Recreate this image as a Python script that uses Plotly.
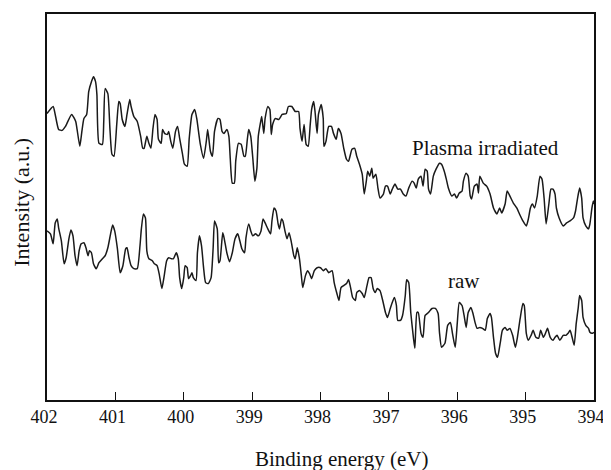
import plotly.graph_objects as go

# Binding energy (eV) and intensity (a.u.)
plasma_energy = [
    402.00, 401.91, 401.88, 401.83, 401.78, 401.73, 401.64, 401.58, 401.56, 401.52,
    401.49, 401.46, 401.42, 401.39, 401.35, 401.32, 401.29, 401.27, 401.24, 401.19,
    401.17, 401.15, 401.11, 401.08, 401.05, 401.02, 400.98, 400.95, 400.93, 400.90,
    400.86, 400.83, 400.79, 400.77, 400.73, 400.68, 400.63, 400.60, 400.58, 400.54,
    400.51, 400.48, 400.45, 400.42, 400.39, 400.37, 400.33, 400.31, 400.28, 400.24,
    400.22, 400.19, 400.16, 400.12, 400.09, 400.06, 400.02, 399.99, 399.95, 399.92,
    399.88, 399.84, 399.81, 399.76, 399.71, 399.67, 399.65, 399.61, 399.58, 399.55,
    399.50, 399.47, 399.44, 399.41, 399.37, 399.34, 399.32, 399.29, 399.26, 399.24,
    399.20, 399.16, 399.12, 399.10, 399.07, 399.05, 399.02, 398.99, 398.96, 398.93,
    398.91, 398.88, 398.86, 398.83, 398.81, 398.77, 398.74, 398.72, 398.70, 398.66,
    398.61, 398.56, 398.50, 398.47, 398.42, 398.37, 398.32, 398.30, 398.27, 398.24,
    398.21, 398.18, 398.15, 398.13, 398.10, 398.08, 398.05, 398.03, 397.99, 397.96,
    397.95, 397.92, 397.88, 397.84, 397.81, 397.77, 397.74, 397.70, 397.66, 397.62,
    397.59, 397.54, 397.50, 397.47, 397.43, 397.39, 397.36, 397.33, 397.31, 397.28,
    397.25, 397.23, 397.19, 397.16, 397.13, 397.08, 397.05, 397.02, 396.98, 396.95,
    396.91, 396.87, 396.83, 396.79, 396.75, 396.71, 396.66, 396.63, 396.60, 396.57,
    396.53, 396.50, 396.47, 396.44, 396.42, 396.39, 396.35, 396.31, 396.26, 396.23,
    396.19, 396.16, 396.13, 396.08, 396.04, 396.01, 395.97, 395.93, 395.91, 395.87,
    395.84, 395.81, 395.79, 395.75, 395.71, 395.69, 395.67, 395.62, 395.57, 395.52,
    395.47, 395.42, 395.38, 395.35, 395.30, 395.27, 395.23, 395.18, 395.13, 395.09,
    395.04, 394.99, 394.96, 394.93, 394.90, 394.87, 394.83, 394.79, 394.76, 394.73,
    394.70, 394.66, 394.63, 394.60, 394.57, 394.55, 394.51, 394.45, 394.40, 394.35,
    394.30, 394.27, 394.24, 394.21, 394.18, 394.16, 394.12, 394.08, 394.06, 394.03,
    394.01, 394.00,
]
plasma_intensity = [
    288, 295, 287, 272, 271, 275, 287, 280, 272, 255,
    270, 283, 287, 310, 320, 325, 320, 307, 258, 257,
    280, 313, 308, 273, 247, 245, 277, 300, 298, 282,
    275, 287, 302, 295, 285, 280, 265, 253, 253, 265,
    258, 253, 273, 287, 282, 262, 258, 272, 268, 267,
    270, 260, 253, 270, 275, 263, 248, 237, 235, 263,
    287, 292, 283, 258, 243, 260, 272, 250, 245, 270,
    283, 282, 270, 268, 272, 265, 243, 218, 218, 240,
    258, 257, 245, 245, 262, 272, 265, 243, 220, 233,
    265, 278, 285, 268, 283, 295, 292, 267, 277, 283,
    282, 287, 288, 295, 295, 290, 290, 273, 260, 277,
    257, 255, 277, 292, 300, 290, 268, 287, 297, 283,
    255, 260, 275, 275, 268, 262, 273, 268, 253, 242,
    240, 252, 253, 245, 237, 227, 207, 220, 230, 225,
    233, 223, 227, 213, 203, 207, 215, 215, 207, 212,
    217, 212, 212, 207, 205, 213, 220, 218, 213, 222,
    225, 215, 232, 230, 212, 207, 225, 232, 238, 237,
    230, 222, 213, 205, 207, 203, 208, 210, 220, 228,
    225, 205, 202, 215, 217, 208, 225, 218, 215, 207,
    193, 187, 193, 188, 197, 210, 205, 198, 193, 187,
    180, 175, 182, 193, 197, 193, 205, 225, 222, 203,
    177, 197, 212, 212, 207, 193, 183, 175, 178, 180,
    183, 190, 203, 213, 203, 183, 175, 172, 177, 193,
    200, 197,
]

raw_energy = [
    402.00, 401.95, 401.91, 401.88, 401.85, 401.83, 401.79, 401.75, 401.72, 401.68,
    401.65, 401.62, 401.59, 401.56, 401.53, 401.50, 401.46, 401.43, 401.40, 401.38,
    401.35, 401.32, 401.28, 401.24, 401.19, 401.15, 401.11, 401.07, 401.04, 401.01,
    400.97, 400.93, 400.89, 400.85, 400.83, 400.80, 400.77, 400.73, 400.68, 400.64,
    400.62, 400.59, 400.56, 400.54, 400.51, 400.46, 400.43, 400.39, 400.36, 400.32,
    400.29, 400.25, 400.22, 400.18, 400.15, 400.11, 400.08, 400.06, 400.03, 400.00,
    399.98, 399.95, 399.93, 399.90, 399.88, 399.86, 399.82, 399.80, 399.77, 399.74,
    399.71, 399.68, 399.64, 399.60, 399.57, 399.55, 399.51, 399.49, 399.47, 399.43,
    399.41, 399.37, 399.33, 399.29, 399.25, 399.21, 399.18, 399.15, 399.11, 399.09,
    399.05, 399.02, 398.99, 398.95, 398.91, 398.87, 398.84, 398.81, 398.77, 398.73,
    398.71, 398.68, 398.65, 398.62, 398.60, 398.57, 398.55, 398.52, 398.49, 398.46,
    398.43, 398.39, 398.37, 398.34, 398.31, 398.28, 398.26, 398.22, 398.19, 398.16,
    398.13, 398.09, 398.05, 398.00, 397.96, 397.92, 397.88, 397.83, 397.80, 397.76,
    397.73, 397.70, 397.66, 397.62, 397.59, 397.56, 397.53, 397.49, 397.47, 397.43,
    397.39, 397.36, 397.32, 397.29, 397.26, 397.23, 397.20, 397.17, 397.13, 397.09,
    397.05, 397.02, 396.98, 396.94, 396.92, 396.89, 396.87, 396.83, 396.80, 396.76,
    396.74, 396.71, 396.68, 396.64, 396.62, 396.59, 396.57, 396.53, 396.50, 396.47,
    396.42, 396.37, 396.32, 396.28, 396.26, 396.23, 396.18, 396.14, 396.10, 396.07,
    396.03, 396.00, 395.97, 395.93, 395.90, 395.87, 395.84, 395.80, 395.77, 395.74,
    395.71, 395.67, 395.63, 395.59, 395.56, 395.52, 395.50, 395.47, 395.44, 395.41,
    395.37, 395.34, 395.30, 395.27, 395.23, 395.19, 395.15, 395.12, 395.08, 395.04,
    395.02, 394.99, 394.96, 394.92, 394.89, 394.85, 394.81, 394.78, 394.74, 394.71,
    394.68, 394.64, 394.60, 394.57, 394.54, 394.50, 394.45, 394.41, 394.38, 394.35,
    394.32, 394.29, 394.26, 394.23, 394.21, 394.18, 394.16, 394.12, 394.08, 394.06,
    394.03, 394.00,
]
raw_intensity = [
    170, 167, 157, 178, 182, 173, 160, 137, 143, 162,
    171, 165, 145, 135, 150, 157, 158, 153, 145, 150,
    148, 137, 132, 138, 142, 145, 153, 167, 176, 170,
    152, 128, 135, 152, 153, 143, 135, 132, 132, 155,
    172, 187, 183, 150, 142, 140, 137, 135, 127, 112,
    123, 140, 143, 142, 142, 148, 142, 123, 112, 123,
    135, 133, 122, 125, 128, 123, 120, 148, 165, 155,
    133, 118, 117, 123, 153, 180, 172, 138, 140, 168,
    163, 148, 139, 148, 162, 167, 160, 152, 148, 163,
    177, 170, 165, 167, 165, 170, 182, 178, 172, 167,
    180, 193, 190, 177, 172, 182, 180, 170, 162, 168,
    160, 145, 142, 153, 143, 125, 113, 125, 130, 127,
    122, 130, 133, 133, 130, 132, 128, 130, 118, 107,
    100, 113, 115, 117, 121, 113, 103, 100, 108, 110,
    107, 103, 115, 123, 123, 112, 108, 112, 110, 100,
    88, 83, 92, 100, 103, 95, 80, 80, 85, 105,
    121, 118, 88, 62, 52, 88, 88, 67, 63, 85,
    88, 92, 92, 87, 68, 53, 57, 75, 78, 67,
    53, 77, 98, 95, 85, 73, 88, 93, 87, 78,
    72, 73, 72, 70, 82, 87, 83, 63, 47, 43,
    58, 70, 73, 70, 72, 65, 53, 63, 82, 97,
    95, 67, 60, 65, 70, 63, 62, 70, 63, 67,
    72, 63, 60, 63, 65, 60, 65, 65, 67, 70,
    63, 55, 77, 93, 105, 100, 83, 75, 72, 68,
    67, 68,
]

x_ticks = [402, 401, 400, 399, 398, 397, 396, 395, 394]
series_labels = ["Plasma irradiated", "raw"]
label_pos_energy = [395.59, 395.90]
label_pos_intensity = [253, 120]

FONT = "Liberation Serif"
INK = "#111111"

fig = go.Figure()
for xs, ys, name in [(plasma_energy, plasma_intensity, series_labels[0]),
                     (raw_energy, raw_intensity, series_labels[1])]:
    fig.add_trace(go.Scatter(
        x=xs, y=ys, mode="lines", name=name,
        line=dict(color="#1a1a1a", width=1.5, shape="spline", smoothing=0.5),
        showlegend=False, hoverinfo="skip",
    ))

for txt, ex, iy in zip(series_labels, label_pos_energy, label_pos_intensity):
    fig.add_annotation(x=ex, y=iy, xref="x", yref="y", text=txt, showarrow=False,
                       xanchor="center", yanchor="middle",
                       font=dict(family=FONT, size=21, color=INK))

# axis titles
fig.add_annotation(xref="paper", yref="paper", x=0.538, y=-0.152,
                   xanchor="center", yanchor="middle",
                   text="Binding energy (eV)", showarrow=False,
                   font=dict(family=FONT, size=21, color=INK))
fig.add_annotation(xref="paper", yref="paper", x=-0.046, y=0.513,
                   xanchor="center", yanchor="middle", borderpad=0,
                   text="Intensity (a.u.)", textangle=-90, showarrow=False,
                   font=dict(family=FONT, size=22, color=INK))

fig.update_layout(
    width=611, height=470,
    margin=dict(l=38.5, r=25, t=4, b=78),
    paper_bgcolor="white", plot_bgcolor="white",
    font=dict(family=FONT, size=18, color=INK),
)
fig.update_xaxes(
    range=[402, 394], tickvals=x_ticks, ticktext=[str(t) for t in x_ticks],
    ticks="inside", ticklen=8, tickwidth=1.3, tickcolor=INK,
    ticklabelstandoff=0, ticklabelshift=3,
    showline=True, linecolor=INK, linewidth=1.6, mirror=True,
    showgrid=False, zeroline=False,
    tickfont=dict(family=FONT, size=18, color=INK),
)
fig.update_yaxes(
    range=[0, 388], showticklabels=False, ticks="",
    showline=True, linecolor=INK, linewidth=1.6, mirror=True,
    showgrid=False, zeroline=False,
)

fig.write_html("out.html")
